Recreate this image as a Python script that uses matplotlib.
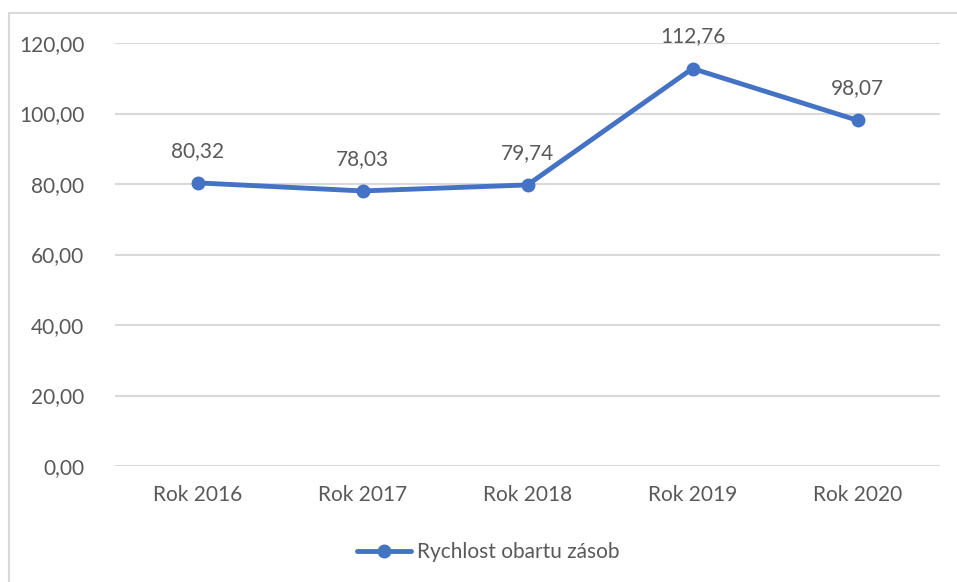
import matplotlib.pyplot as plt
from matplotlib.patches import Rectangle

years = ["Rok 2016", "Rok 2017", "Rok 2018", "Rok 2019", "Rok 2020"]
values = [80.32, 78.03, 79.74, 112.76, 98.07]
y_ticks = [0, 20, 40, 60, 80, 100, 120]
series_name = "Rychlost obartu zásob"

blue = "#4472C4"
gray_text = "#595959"
plt.rcParams['font.family'] = ['Lato', 'DejaVu Sans']

fig = plt.figure(figsize=(9.57, 5.82), dpi=100)
ax = fig.add_axes([115 / 957, 1 - 466 / 582, 825 / 957, 423 / 582])

# outer chart border (only left/top visible in the crop)
fig.patches.append(Rectangle((9 / 957, -0.05), 1.2, 1 - 13 / 582 + 0.05,
                             transform=fig.transFigure, fill=False,
                             edgecolor="#D9D9D9", linewidth=1.5))

x = list(range(len(years)))
ax.plot(x, values, color=blue, linewidth=3.5, marker="o", markersize=9,
        solid_capstyle="round", label=series_name, zorder=3)
for xi, v in zip(x, values):
    ax.annotate(f"{v:.2f}".replace(".", ","), (xi, v), xytext=(0, 16),
                textcoords="offset points", ha="center", va="bottom",
                fontsize=15, color=gray_text)

ax.set_xlim(-0.5, len(years) - 0.5)
ax.set_ylim(0, 120)
ax.set_yticks(y_ticks)
ax.set_yticklabels([f"{t:.2f}".replace(".", ",") for t in y_ticks])
ax.set_xticks(x)
ax.set_xticklabels(years)
ax.tick_params(axis="both", length=0, labelsize=15, labelcolor=gray_text)
ax.tick_params(axis="y", pad=22)
ax.tick_params(axis="x", pad=14)
ax.grid(axis="y", color="#D9D9D9", linewidth=1.5)
ax.set_axisbelow(True)
for s in ax.spines.values():
    s.set_visible(False)

fig.legend(loc="center", bbox_to_anchor=(0.5 + 10 / 957, 1 - 552 / 582),
           frameon=False, fontsize=15, labelcolor=gray_text,
           handlelength=2.6, handletextpad=0.3)

fig.savefig("out.png", dpi=100)
